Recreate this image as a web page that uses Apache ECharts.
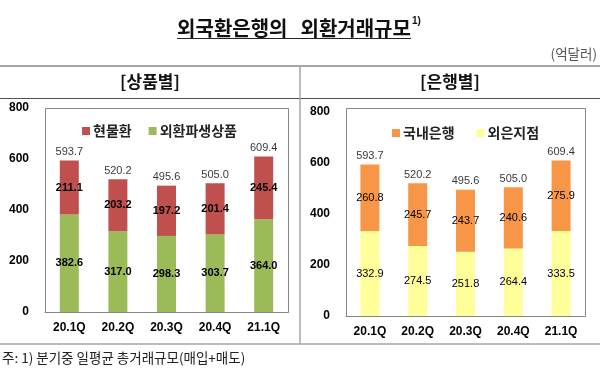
<!DOCTYPE html>
<html><head><meta charset="utf-8">
<script src="https://cdn.jsdelivr.net/npm/echarts@6/dist/echarts.min.js"></script>
<style>html,body{margin:0;padding:0;background:#fff}#c{width:600px;height:370px}</style>
</head><body><div id="c"></div>
<script>
const categories = ['20.1Q', '20.2Q', '20.3Q', '20.4Q', '21.1Q'];
// 상품별
const spotValues = [211.1, 203.2, 197.2, 201.4, 245.4];        // 현물환
const derivativeValues = [382.6, 317.0, 298.3, 303.7, 364.0];  // 외환파생상품
const productTotals = [593.7, 520.2, 495.6, 505.0, 609.4];
// 은행별
const domesticValues = [260.8, 245.7, 243.7, 240.6, 275.9];    // 국내은행
const foreignValues = [332.9, 274.5, 251.8, 264.4, 333.5];     // 외은지점
const bankTotals = [593.7, 520.2, 495.6, 505.0, 609.4];
const yMin = 0, yMax = 800, yStep = 200;

const NUM = 'Liberation Sans, Arial, Noto Sans CJK KR, sans-serif';
const KR = 'Noto Sans CJK KR, sans-serif';
const fmt = p => Number(p.value).toFixed(1);

// title layout (measure text so the underline fits)
const titleA = '외국환은행의', titleB = '외환거래규모';
const titleFont = 'bold 20px Noto Sans CJK KR';
const mctx = document.createElement('canvas').getContext('2d');
mctx.font = titleFont;
const wA = mctx.measureText(titleA).width, wB = mctx.measureText(titleB).width;
const tGap = 13;
const tTotal = wA + tGap + wB;
const tLeft = 294 - tTotal / 2;

function yAxis(gi) {
  return {
    type: 'value', gridIndex: gi, min: yMin, max: yMax, interval: yStep,
    axisLine: { show: false }, axisTick: { show: false }, splitLine: { show: false },
    axisLabel: { margin: 16, color: '#000', fontFamily: NUM, fontSize: 12, fontWeight: 'bold' }
  };
}
function xAxis(gi) {
  return {
    type: 'category', gridIndex: gi, data: categories,
    axisLine: { show: true, lineStyle: { color: '#868686', width: 1 } },
    axisTick: { show: false },
    axisLabel: { margin: 10, color: '#000', fontFamily: NUM, fontSize: 12, fontWeight: 'bold' }
  };
}
function segBar(name, data, color, gi, stack, bold) {
  return {
    name, type: 'bar', stack, xAxisIndex: gi, yAxisIndex: gi, data, barWidth: 19,
    itemStyle: { color }, emphasis: { disabled: true },
    label: { show: true, position: 'inside', formatter: fmt, color: '#000',
      fontFamily: NUM, fontSize: 11, fontWeight: bold ? 'bold' : 'normal' }
  };
}
function totals(data, gi) {
  return {
    type: 'scatter', xAxisIndex: gi, yAxisIndex: gi, data, symbolSize: 0, silent: true,
    label: { show: true, position: 'top', distance: 3, formatter: fmt, color: '#000',
      fontFamily: NUM, fontSize: 11 }
  };
}

const chart = echarts.init(document.getElementById('c'), null, { renderer: 'canvas' });
chart.setOption({
  animation: false,
  backgroundColor: '#fff',
  grid: [
    { left: 45, right: 312, top: 108, bottom: 58, outerBoundsMode: 'none' },
    { left: 346, right: 15, top: 112, bottom: 54, outerBoundsMode: 'none' }
  ],
  xAxis: [xAxis(0), xAxis(1)],
  yAxis: [yAxis(0), yAxis(1)],
  legend: [
    { data: ['현물환', '외환파생상품'], left: 77, top: 119, itemWidth: 8, itemHeight: 8, itemGap: 17,
      icon: 'rect', textStyle: { fontFamily: KR, fontSize: 14, fontWeight: 'bold', color: '#222', padding: [0,0,0,-2] } },
    { data: ['국내은행', '외은지점'], left: 387, top: 121, itemWidth: 8, itemHeight: 8, itemGap: 22,
      icon: 'rect', textStyle: { fontFamily: KR, fontSize: 14, fontWeight: 'bold', color: '#222', padding: [0,0,0,-2] } }
  ],
  series: [
    segBar('외환파생상품', derivativeValues, '#9BBB59', 0, 'p', true),
    segBar('현물환', spotValues, '#C0504D', 0, 'p', true),
    totals(productTotals, 0),
    segBar('외은지점', foreignValues, '#FFFF99', 1, 'b', false),
    segBar('국내은행', domesticValues, '#F79646', 1, 'b', false),
    totals(bankTotals, 1)
  ],
  graphic: [
    { type: 'text', style: { text: titleA, x: tLeft, y: 28, verticalAlign: 'middle', font: titleFont, fill: '#111' } },
    { type: 'text', style: { text: titleB, x: tLeft + wA + tGap, y: 28, verticalAlign: 'middle', font: titleFont, fill: '#111' } },
    { type: 'text', style: { text: '1)', x: tLeft + tTotal + 1, y: 21, verticalAlign: 'middle', fontFamily: NUM, fontSize: 10, fontWeight: 'bold', fill: '#111' } },
    { type: 'line', shape: { x1: tLeft, y1: 38.5, x2: tLeft + tTotal, y2: 38.5 }, style: { stroke: '#222', lineWidth: 1 } },
    { type: 'text', style: { text: '(억달러)', x: 597, y: 54, align: 'right', verticalAlign: 'middle', fontFamily: KR, fontSize: 13.5, fill: '#555' } },
    { type: 'line', shape: { x1: 0, y1: 66, x2: 600, y2: 66 }, style: { stroke: '#a6a6a6', lineWidth: 2 } },
    { type: 'line', shape: { x1: 0, y1: 98.5, x2: 600, y2: 98.5 }, style: { stroke: '#505050', lineWidth: 1 } },
    { type: 'line', shape: { x1: 300, y1: 66, x2: 300, y2: 344 }, style: { stroke: '#a6a6a6', lineWidth: 1.5 } },
    { type: 'line', shape: { x1: 0, y1: 344, x2: 600, y2: 344 }, style: { stroke: '#a6a6a6', lineWidth: 1.5 } },
    { type: 'text', style: { text: '[상품별]', x: 150, y: 82, align: 'center', verticalAlign: 'middle', fontFamily: KR, fontSize: 17, fontWeight: 'bold', fill: '#111' } },
    { type: 'text', style: { text: '[은행별]', x: 450, y: 82, align: 'center', verticalAlign: 'middle', fontFamily: KR, fontSize: 17, fontWeight: 'bold', fill: '#111' } },
    { type: 'rect', shape: { x: 45.5, y: 108.5, width: 243, height: 204 }, style: { fill: 'none', stroke: '#868686', lineWidth: 1 }, z: -1 },
    { type: 'rect', shape: { x: 346.5, y: 108.5, width: 239, height: 208 }, style: { fill: 'none', stroke: '#868686', lineWidth: 1 }, z: -1 },
    { type: 'text', style: { text: '주: 1) 분기중 일평균 총거래규모(매입+매도)', x: 2, y: 358, verticalAlign: 'middle', fontFamily: KR, fontSize: 13.5, fill: '#222' } }
  ]
});
</script>
</body></html>
